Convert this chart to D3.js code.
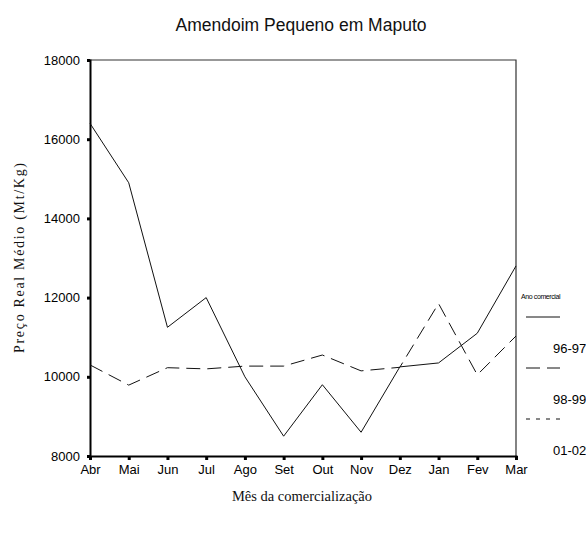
<!DOCTYPE html>
<html>
<head>
<meta charset="utf-8">
<script src="https://cdn.jsdelivr.net/npm/d3@7"></script>
<style>
  body { margin: 0; background: #fff; }
  svg { display: block; }
</style>
</head>
<body>
<div id="chart"></div>
<script>
// data
const months = ["Abr", "Mai", "Jun", "Jul", "Ago", "Set", "Out", "Nov", "Dez", "Jan", "Fev", "Mar"];
const serie9697 = [16400, 14900, 11250, 12000, 10000, 8500, 9800, 8600, 10250, 10350, 11100, 12800];
const serie9899 = [10300, 9790, 10230, 10200, 10270, 10270, 10550, 10150, 10240, 11850, 10050, 11030];
const serie0102 = []; // only in the legend
const yTicks = [8000, 10000, 12000, 14000, 16000, 18000];
const seriesNames = ["96-97", "98-99", "01-02"];

const width = 586;
const height = 535;
const margin = { top: 60, right: 70, bottom: 79, left: 90 };

const svg = d3.select("#chart")
  .append("svg")
  .attr("width", width)
  .attr("height", height);

const x = d3.scalePoint()
  .domain(months)
  .range([margin.left, width - margin.right]);

const y = d3.scaleLinear()
  .domain([8000, 18000])
  .range([height - margin.bottom, margin.top]);

// frame top & right
svg.append("path")
  .attr("d", `M${margin.left},${margin.top}H${width - margin.right}V${height - margin.bottom}`)
  .attr("fill", "none")
  .attr("stroke", "#333")
  .attr("stroke-width", 1.2);

function yAxis(g) {
  g.attr("transform", `translate(${margin.left},0)`)
    .call(d3.axisLeft(y).tickValues(yTicks).tickSize(3).tickPadding(7).tickFormat(d3.format("d")))
    .attr("font-family", "Liberation Sans, Arial, sans-serif")
    .attr("font-size", "13px");
  g.select(".domain").attr("stroke-width", 2);
  g.selectAll(".tick line").attr("stroke-width", 3);
  g.selectAll(".tick text").attr("fill", "#000");
}

function xAxis(g) {
  g.attr("transform", `translate(0,${height - margin.bottom})`)
    .call(d3.axisBottom(x).tickSize(4).tickPadding(5))
    .attr("font-family", "Liberation Sans, Arial, sans-serif")
    .attr("font-size", "13px");
  g.select(".domain").attr("stroke-width", 2);
  g.selectAll(".tick line").attr("stroke-width", 3);
  g.selectAll(".tick text").attr("fill", "#000");
}

svg.append("g").call(xAxis);
svg.append("g").call(yAxis);

const line = d3.line()
  .x((d, i) => x(months[i]))
  .y(d => y(d));

const dashes = [null, "14,7", "4,6"];
const series = [serie9697, serie9899, serie0102];

series.forEach((s, k) => {
  if (!s.length) return;
  svg.append("path")
    .datum(s)
    .attr("fill", "none")
    .attr("stroke", "#111")
    .attr("stroke-width", 1)
    .attr("stroke-dasharray", dashes[k])
    .attr("d", line);
});

// title
svg.append("text")
  .attr("x", 301)
  .attr("y", 31)
  .attr("text-anchor", "middle")
  .attr("font-family", "Liberation Sans, Arial, sans-serif")
  .attr("font-size", "17.5px")
  .attr("fill", "#111")
  .text("Amendoim Pequeno em Maputo");

// axis titles
svg.append("text")
  .attr("transform", "translate(24,258) rotate(-90)")
  .attr("text-anchor", "middle")
  .attr("font-family", "Liberation Serif, Times New Roman, serif")
  .attr("font-size", "14px")
  .attr("textLength", 190)
  .attr("lengthAdjust", "spacing")
  .attr("fill", "#111")
  .text("Preço Real Médio (Mt/Kg)");

svg.append("text")
  .attr("x", 302)
  .attr("y", 501)
  .attr("text-anchor", "middle")
  .attr("font-family", "Liberation Serif, Times New Roman, serif")
  .attr("font-size", "14.5px")
  .attr("fill", "#111")
  .text("Mês da comercialização");

// legend
const legend = svg.append("g")
  .attr("font-family", "Liberation Sans, Arial, sans-serif");

legend.append("text")
  .attr("x", 521)
  .attr("y", 299)
  .attr("font-size", "7px")
  .attr("letter-spacing", "-0.4px")
  .text("Ano comercial");

seriesNames.forEach((name, k) => {
  const ly = 317 + k * 51;
  legend.append("line")
    .attr("x1", 526).attr("x2", 560)
    .attr("y1", ly).attr("y2", ly)
    .attr("stroke", "#111")
    .attr("stroke-width", 1)
    .attr("stroke-dasharray", dashes[k]);
  legend.append("text")
    .attr("x", 553)
    .attr("y", ly + 36)
    .attr("font-size", "13px")
    .text(name);
});
</script>
</body>
</html>
